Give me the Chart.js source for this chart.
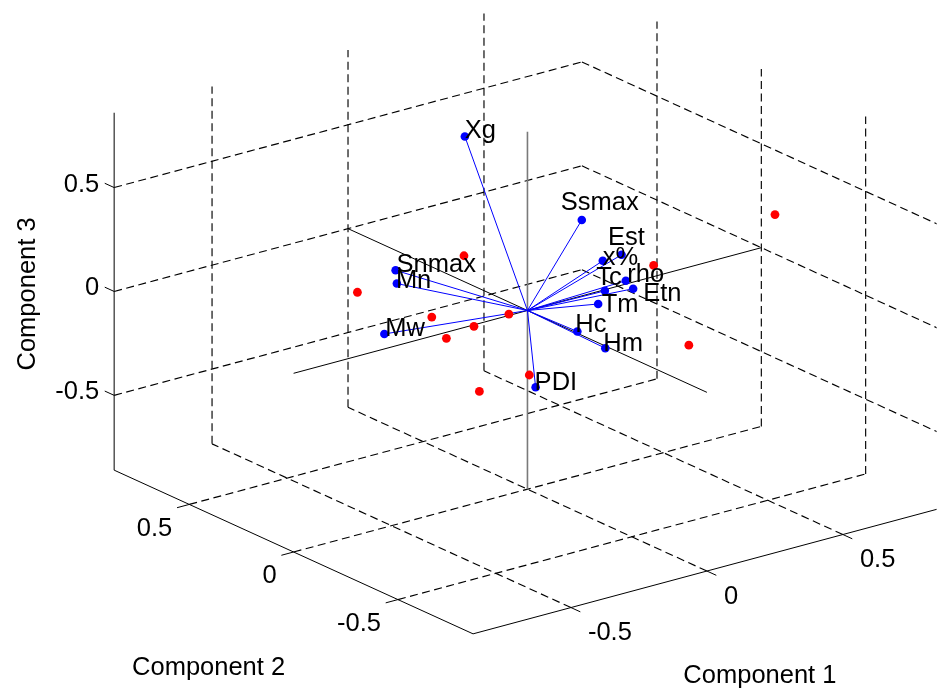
<!DOCTYPE html>
<html>
<head>
<meta charset="utf-8">
<script src="https://cdn.jsdelivr.net/npm/chart.js@4.4.1/dist/chart.umd.min.js"></script>
<style>
  html, body { margin: 0; padding: 0; background: #fff; }
  canvas { display: block; }
</style>
</head>
<body>
<canvas id="biplot" width="941" height="698"></canvas>
<script>
// variable loadings on components 1-3
const varLabels = ['Xg', 'Ssmax', 'Est', 'x%', 'Tc', 'rho', 'Etn', 'Tm', 'Hc', 'Hm', 'PDI', 'Snmax', 'Mn', 'Mw'];
const coefC1 = [0.00, 0.10, 0.30, 0.30, 0.30, 0.40, 0.45, 0.26, 0.03, 0.01, 0.03, -0.27, -0.25, -0.25];
const coefC2 = [0.30, -0.13, -0.06, 0.03, 0.02, 0.05, 0.08, 0.00, -0.20, -0.36, 0.00, 0.28, 0.30, 0.36];
const coefC3 = [0.70, 0.46, 0.19, 0.12, -0.02, -0.02, -0.09, -0.06, -0.02, -0.02, -0.38, 0.16, 0.08, -0.19];

// observation scores
const scoreC1 = [0.68, 0.51, 0.44, -0.08, -0.28, -0.16, -0.12, -0.16, -0.03, -0.07, -0.10];
const scoreC2 = [-0.30, 0.06, -0.20, 0.20, 0.45, 0.25, 0.10, 0.18, 0.05, -0.10, 0.10];
const scoreC3 = [0.36, 0.01, -0.23, 0.20, -0.02, -0.09, -0.08, -0.16, -0.03, -0.24, -0.40];

// axes
const tickValues = [-0.5, 0, 0.5];
const tickLabels = ['-0.5', '0', '0.5'];
const axisLimit = 0.86;
const axisTitles = ['Component 1', 'Component 2', 'Component 3'];

// label nudges in pixels (text origin relative to the point)
const labelNudge = {
    Xg: [0, 2], Ssmax: [-21, -10], Est: [-13.5, -10], 'x%': [0, 4], Tc: [-8.5, -6],
    rho: [1.5, 1], Etn: [10, 12], Tm: [3.5, 8], Hc: [-2, 1], Hm: [-2, 3],
    PDI: [-1, 3], Snmax: [1, 2], Mn: [-1, 4], Mw: [1, 2]
};

// default matlab 3-D view
const az = -37.5 * Math.PI / 180;
const el = 30 * Math.PI / 180;
const originPx = [528, 310];
const unitPx = [346, 243];
const W = 941, H = 698;

function project(x, y, z) {
    return {
        x: Math.cos(az) * x + Math.sin(az) * y,
        y: -Math.sin(el) * Math.sin(az) * x + Math.sin(el) * Math.cos(az) * y + Math.cos(el) * z
    };
}

const L = axisLimit;
const tickLen = 0.045;
const layers = []; // back to front

function segment(a, b, color, dash, width) {
    layers.push({
        data: [project(...a), project(...b)],
        showLine: true,
        borderColor: color,
        borderWidth: width || 1,
        borderDash: dash || [],
        pointRadius: 0,
        fill: false
    });
}

// dashed grid on the back planes
const dash = [8, 4.5];
tickValues.forEach(t => {
    segment([t, -L, -L], [t, L, -L], '#000', dash, 1.15);   // floor, x = t
    segment([-L, t, -L], [L, t, -L], '#000', dash, 1.15);   // floor, y = t
    segment([t, L, -L], [t, L, L], '#000', dash, 1.15);     // back wall y = L
    segment([-L, L, t], [L, L, t], '#000', dash, 1.15);
    segment([L, t, -L], [L, t, L], '#000', dash, 1.15);     // back wall x = L
    segment([L, L, t], [L, -L, t], '#000', dash, 1.15);
});

// axis lines and ticks
segment([-L, L, -L], [-L, L, L], '#000');
segment([-L, -L, -L], [-L, L, -L], '#000');
segment([-L, -L, -L], [L, -L, -L], '#000');
tickValues.forEach(t => {
    segment([-L, L, t], [-L, L + tickLen, t], '#000');
    segment([-L, t, -L], [-L - tickLen, t, -L], '#000');
    segment([t, -L, -L], [t, -L - tickLen, -L], '#000');
});

// biplot axes through the origin
segment([-L, 0, 0], [L, 0, 0], '#000');
segment([0, -L, 0], [0, L, 0], '#000');
segment([0, 0, -L], [0, 0, L], '#7a7a7a', null, 1.6);

// loading vectors
varLabels.forEach((name, i) => {
    segment([0, 0, 0], [coefC1[i], coefC2[i], coefC3[i]], '#0000ff');
});

layers.push({
    data: varLabels.map((name, i) => project(coefC1[i], coefC2[i], coefC3[i])),
    showLine: false,
    pointRadius: 4.3,
    pointBorderWidth: 0,
    pointBackgroundColor: '#0000ff'
});

layers.push({
    data: scoreC1.map((v, i) => project(v, scoreC2[i], scoreC3[i])),
    showLine: false,
    pointRadius: 4.4,
    pointBorderWidth: 0,
    pointBackgroundColor: '#ff0000'
});

const FONT = '25.5px "Liberation Sans", Arial, sans-serif';

const textPlugin = {
    id: 'biplotText',
    afterDatasetsDraw(chart) {
        const ctx = chart.ctx;
        const sx = chart.scales.x, sy = chart.scales.y;
        const px = (x, y, z) => {
            const p = project(x, y, z);
            return [sx.getPixelForValue(p.x), sy.getPixelForValue(p.y)];
        };
        ctx.save();
        ctx.fillStyle = '#000';
        ctx.font = FONT;
        ctx.textBaseline = 'alphabetic';

        // variable names
        ctx.textAlign = 'left';
        varLabels.forEach((name, i) => {
            const [x, y] = px(coefC1[i], coefC2[i], coefC3[i]);
            const n = labelNudge[name] || [0, 3];
            ctx.fillText(name, x + n[0], y + n[1]);
        });

        // tick labels
        tickValues.forEach((t, i) => {
            let p = px(-L, L, t);
            ctx.textAlign = 'right';
            ctx.fillText(tickLabels[i], p[0] - 15, p[1] + 4);
            p = px(-L, t, -L);
            ctx.fillText(tickLabels[i], p[0] - 17, p[1] + 31.5);
            p = px(t, -L, -L);
            ctx.textAlign = 'left';
            ctx.fillText(tickLabels[i], p[0] + 17, p[1] + 32.5);
        });

        // axis titles
        ctx.textAlign = 'center';
        let p = px(0, -L, -L);
        ctx.fillText(axisTitles[0], p[0] + 53, p[1] + 112);
        p = px(-L, 0, -L);
        ctx.fillText(axisTitles[1], p[0] - 85, p[1] + 123);
        p = px(-L, L, 0);
        ctx.translate(p[0] - 79, p[1] + 2.5);
        ctx.rotate(-Math.PI / 2);
        ctx.fillText(axisTitles[2], 0, 0);
        ctx.restore();
    }
};

new Chart(document.getElementById('biplot'), {
    type: 'scatter',
    data: { datasets: layers.slice().reverse() },
    options: {
        responsive: false,
        animation: false,
        events: [],
        layout: { padding: 0 },
        plugins: { legend: { display: false }, tooltip: { enabled: false } },
        scales: {
            x: {
                type: 'linear', display: false,
                min: -originPx[0] / unitPx[0],
                max: (W - originPx[0]) / unitPx[0]
            },
            y: {
                type: 'linear', display: false,
                min: -(H - originPx[1]) / unitPx[1],
                max: originPx[1] / unitPx[1]
            }
        }
    },
    plugins: [textPlugin]
});
</script>
</body>
</html>
